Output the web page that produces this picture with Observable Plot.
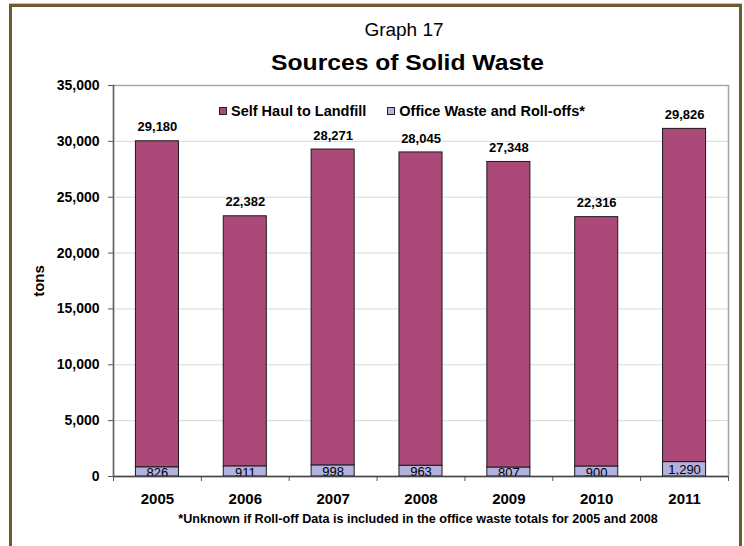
<!DOCTYPE html>
<html>
<head>
<meta charset="utf-8">
<script src="https://cdn.jsdelivr.net/npm/d3@7"></script>
<script src="https://cdn.jsdelivr.net/npm/@observablehq/plot@0.6"></script>
<style>
  html, body { margin: 0; padding: 0; background: #fff; }
  #wrap { position: relative; width: 744px; height: 546px; overflow: hidden; font-family: "Liberation Sans", Arial, sans-serif; color: #000; }
  #border { position: absolute; left: 9px; top: 4px; width: 727px; height: 560px; border-left: 3px solid #6b5b2d; border-top: 3px solid #6b5b2d; border-right: 3px solid #6b5b2d; box-sizing: content-box; box-shadow: 0 -1px 0 #c8c4b8; }
  #chart { position: absolute; left: 0; top: 0; }
  .abs { position: absolute; white-space: nowrap; }
  #t1 { left: 0; width: 808px; text-align: center; top: 19px; font-size: 19px; }
  #t2 { left: 0; width: 815px; text-align: center; top: 50px; font-size: 22px; font-weight: bold; transform: scaleX(1.12); transform-origin: 407px 0; }
  #ylab { left: 38px; top: 281px; font-size: 15px; font-weight: bold; transform: translate(-50%, -50%) rotate(-90deg); }
  #foot { left: 0; width: 836px; text-align: center; top: 512px; font-size: 12.6px; font-weight: bold; }
  #legend { left: 219px; top: 103px; display: flex; align-items: center; font-size: 14.5px; font-weight: bold; }
  .sw { display: inline-block; width: 6px; height: 6px; border: 1px solid #222; margin-right: 4px; }
</style>
</head>
<body>
<div id="wrap">
  <div id="chart"></div>
  <div id="border"></div>
  <div class="abs" id="t1">Graph 17</div>
  <div class="abs" id="t2">Sources of Solid Waste</div>
  <div class="abs" id="ylab">tons</div>
  <div class="abs" id="foot">*Unknown if Roll-off Data is included in the office waste totals for 2005 and 2008</div>
  <div class="abs" id="legend"></div>
</div>
<script>
const years = [2005, 2006, 2007, 2008, 2009, 2010, 2011];
const selfHaul = [29180, 22382, 28271, 28045, 27348, 22316, 29826];
const officeWaste = [826, 911, 998, 963, 807, 900, 1290];
const seriesNames = ["Self Haul to Landfill", "Office Waste and Roll-offs*"];
const seriesColors = ["#ab4a78", "#b3b1de"];
const yTicks = [0, 5000, 10000, 15000, 20000, 25000, 30000, 35000];

// legend
const legend = document.getElementById("legend");
seriesNames.forEach((name, i) => {
  const item = document.createElement("span");
  item.style.display = "inline-flex";
  item.style.alignItems = "center";
  item.style.marginRight = i === 0 ? "21px" : "0";
  const sw = document.createElement("span");
  sw.className = "sw";
  sw.style.background = seriesColors[i];
  item.appendChild(sw);
  item.appendChild(document.createTextNode(name));
  legend.appendChild(item);
});

// stacked rows: office first (bottom), then self haul
const rows = [];
years.forEach((yr, i) => rows.push({year: yr, series: seriesNames[1], tons: officeWaste[i]}));
years.forEach((yr, i) => rows.push({year: yr, series: seriesNames[0], tons: selfHaul[i]}));
const tops = years.map((yr, i) => ({year: yr, total: officeWaste[i] + selfHaul[i], label: selfHaul[i]}));
const bottoms = years.map((yr, i) => ({year: yr, mid: officeWaste[i] / 2, label: officeWaste[i]}));
const boundaries = [years[0] - 0.5, ...years.map(y => y + 0.5)];
const half = 0.245;
const fmt = d3.format(",");

const plot = Plot.plot({
  width: 744,
  height: 546,
  marginLeft: 113,
  marginRight: 16,
  marginTop: 85,
  marginBottom: 70,
  style: {fontFamily: "'Liberation Sans', Arial, sans-serif", background: "transparent", color: "#000"},
  x: {type: "linear", domain: [years[0] - 0.5, years[years.length - 1] + 0.5]},
  y: {domain: [0, 35000]},
  color: {domain: seriesNames, range: seriesColors},
  marks: [
    Plot.gridY(yTicks.slice(1, -1), {stroke: "#d9d9d9", strokeOpacity: 1}),
    Plot.frame({stroke: "#a6a6a6", strokeWidth: 1.5}),
    Plot.rectY(rows, Plot.stackY({
      x1: d => d.year - half,
      x2: d => d.year + half,
      y: "tons",
      fill: "series",
      stroke: "#1a1a1a",
      strokeWidth: 1
    })),
    Plot.text(tops, {x: "year", y: "total", text: d => fmt(d.label), dy: -14, fontSize: 13, fontWeight: "bold"}),
    Plot.text(bottoms, {x: "year", y: "mid", text: d => fmt(d.label), dy: 1, fontSize: 13, fill: "#000"}),
    Plot.axisY({ticks: yTicks, tickFormat: fmt, tickSize: 5, tickPadding: 9, fontSize: 14, fontWeight: "bold", label: null, stroke: "#555"}),
    Plot.axisX({ticks: boundaries, tickFormat: () => "", tickSize: 5, label: null, stroke: "#555"}),
    Plot.axisX({ticks: years, tickFormat: d => String(d), tickSize: 0, tickPadding: 17, fontSize: 15, fontWeight: "bold", label: null}),
    Plot.ruleY([0], {stroke: "#444", strokeWidth: 1.5}),
    Plot.frame({anchor: "left", stroke: "#666", strokeWidth: 1.5})
  ]
});
document.getElementById("chart").appendChild(plot);
</script>
</body>
</html>
